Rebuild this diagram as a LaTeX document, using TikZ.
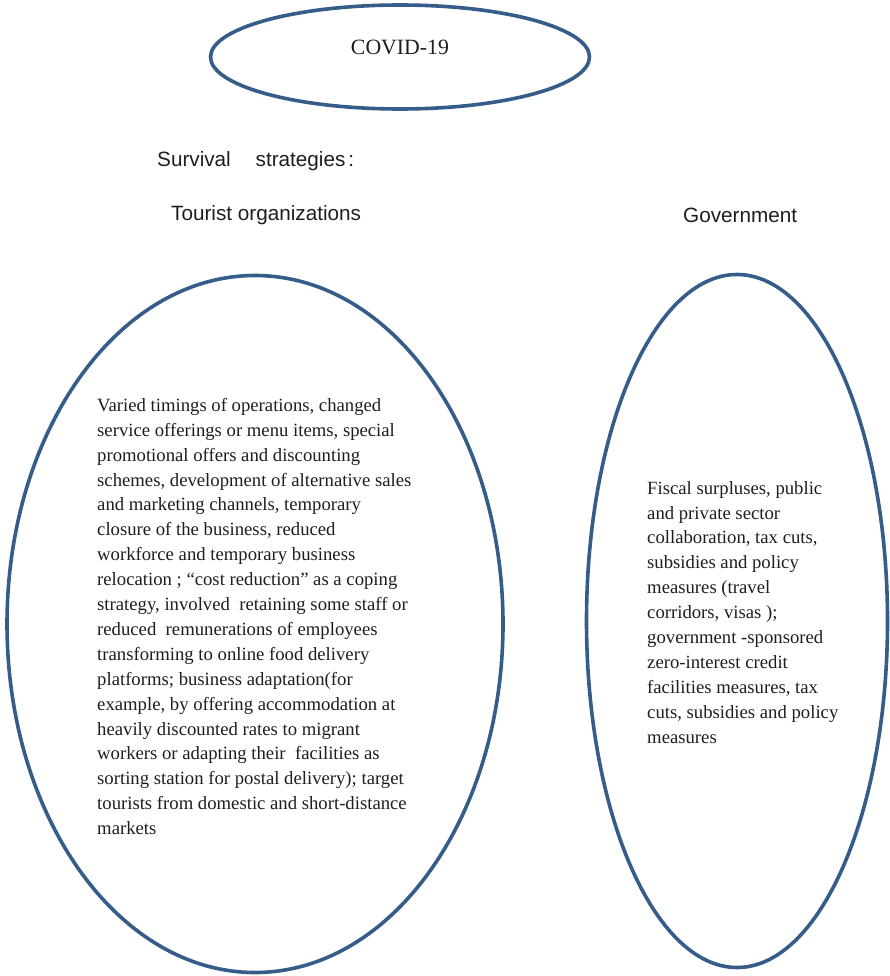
\documentclass[tikz,border=0pt]{standalone}
\usepackage{fontspec}
\setmainfont{Liberation Serif}
\setsansfont{Liberation Sans}
\usetikzlibrary{shapes.geometric}
\definecolor{ringblue}{RGB}{54,92,138}
\definecolor{inkgray}{RGB}{30,30,30}
\begin{document}
\begin{tikzpicture}[x=1pt,y=-1pt,
  ring/.style={draw=ringblue,line width=3.6pt,ellipse,inner sep=0pt},
  bodytext/.style={inner sep=0pt,align=left,text=inkgray,
    font=\fontsize{18.7}{24.9}\selectfont},
  headtext/.style={inner sep=0pt,text=inkgray,font=\sffamily\fontsize{20.7}{24}\selectfont}]
\useasboundingbox (0,0) rectangle (889,976);
% outlines
\node[ring,minimum width=379pt,minimum height=104pt] (covid) at (400,57) {};
\node[ring,minimum width=496pt,minimum height=697pt] (tour) at (255,624) {};
\node[ring,minimum width=301pt,minimum height=693pt] (gov) at (737,621) {};
% titles
\node[inner sep=0pt,text=inkgray,font=\fontsize{21.8}{24}\selectfont] (covidlbl) at (400,47) {COVID-19};
\node[headtext,anchor=west] (surv) at (157,161) {Survival\hspace{1.2em}strategies\hspace{0.15em}:};
\node[headtext,anchor=west] (tourlbl) at (171,215) {Tourist organizations};
\node[headtext,anchor=west] (govlbl) at (683,215) {Government};
% strategy lists
\node[bodytext,anchor=north west] (tourtxt) at (97,398) {Varied timings of operations, changed\\
service offerings or menu items, special\\
promotional offers and discounting\\
schemes, development of alternative sales\\
and marketing channels, temporary\\
closure of the business, reduced\\
workforce and temporary business\\
relocation ; “cost reduction” as a coping\\
strategy, involved\ \ retaining some staff or\\
reduced\ \ remunerations of employees\\
transforming to online food delivery\\
platforms; business adaptation(for\\
example, by offering accommodation at\\
heavily discounted rates to migrant\\
workers or adapting their\ \ facilities as\\
sorting station for postal delivery); target\\
tourists from domestic and short-distance\\
markets};
\node[bodytext,anchor=north west] (govtxt) at (647,481) {Fiscal surpluses, public\\
and private sector\\
collaboration, tax cuts,\\
subsidies and policy\\
measures (travel\\
corridors, visas );\\
government -sponsored\\
zero-interest credit\\
facilities measures, tax\\
cuts, subsidies and policy\\
measures};
\end{tikzpicture}
\end{document}
